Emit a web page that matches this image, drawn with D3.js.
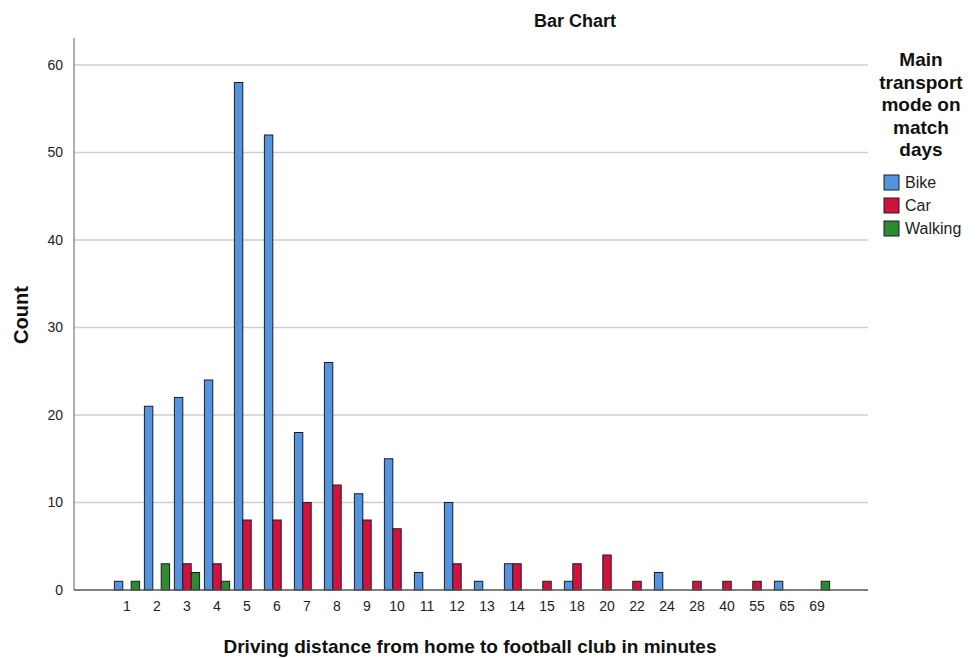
<!DOCTYPE html>
<html><head><meta charset="utf-8">
<script src="https://cdn.jsdelivr.net/npm/d3@7/dist/d3.min.js"></script>
<style>body{margin:0;background:#fff;} svg{display:block;font-family:"Liberation Sans",Arial,sans-serif;}</style>
</head><body>
<svg id="c" width="978" height="658"></svg>
<script>
const categories = ["1","2","3","4","5","6","7","8","9","10","11","12","13","14","15","18","20","22","24","28","40","55","65","69"];
const seriesNames = ["Bike","Car","Walking"];
const bikeValues    = [1,21,22,24,58,52,18,26,11,15,2,10,1,3,0,1,0,0,2,0,0,0,1,0];
const carValues     = [0,0,3,3,8,8,10,12,8,7,0,3,0,3,1,3,4,1,0,1,1,1,0,0];
const walkingValues = [1,3,2,1,0,0,0,0,0,0,0,0,0,0,0,0,0,0,0,0,0,0,0,1];
const yTicks = [0,10,20,30,40,50,60];
const colors = ["#5394DD","#D0123C","#2D8B2D"];

const svg = d3.select("#c");
const axisLeft = 74, axisRight = 868, yTop = 38, yBase = 590;

const x = d3.scaleBand().domain(categories).range([112, 832]).paddingInner(0.16).paddingOuter(0.08);
const xs = d3.scaleBand().domain(seriesNames).range([0, x.bandwidth()]);
const y = d3.scaleLinear().domain([0, 60]).range([yBase, 65]);

// gridlines
svg.append("g").selectAll("line").data(yTicks.filter(d=>d>0)).join("line")
  .attr("x1", axisLeft).attr("x2", axisRight)
  .attr("y1", d=>y(d)).attr("y2", d=>y(d))
  .attr("stroke", "#cfcfcf").attr("stroke-width", 1.5);

// y axis
const ya = svg.append("g").attr("transform", `translate(${axisLeft},0)`)
  .call(d3.axisLeft(y).tickValues(yTicks).tickSize(0).tickPadding(11));
ya.select(".domain").remove();
ya.selectAll("text").attr("font-size", 14).attr("fill", "#222").attr("font-family", "Liberation Sans, Arial, sans-serif");
svg.append("line").attr("x1", axisLeft).attr("x2", axisLeft).attr("y1", yTop).attr("y2", yBase)
  .attr("stroke", "#7a7a7a").attr("stroke-width", 1.2);

// bars
const data = categories.map((c,i)=>({cat:c, vals:[bikeValues[i],carValues[i],walkingValues[i]]}));
const g = svg.append("g");
data.forEach(d=>{
  d.vals.forEach((v,j)=>{
    if (v <= 0) return;
    g.append("rect")
      .attr("x", x(d.cat) + xs(seriesNames[j]))
      .attr("y", y(v))
      .attr("width", xs.bandwidth())
      .attr("height", yBase - y(v))
      .attr("fill", colors[j])
      .attr("stroke", "#1c1c2a").attr("stroke-width", 1);
  });
});

// x axis
const xa = svg.append("g").attr("transform", `translate(0,${yBase})`)
  .call(d3.axisBottom(x).tickSize(0).tickPadding(11));
xa.select(".domain").remove();
xa.selectAll("text").attr("font-size", 14).attr("fill", "#222").attr("font-family", "Liberation Sans, Arial, sans-serif");
svg.append("line").attr("x1", axisLeft).attr("x2", axisRight).attr("y1", yBase).attr("y2", yBase)
  .attr("stroke", "#555").attr("stroke-width", 1.5);

// titles
svg.append("text").attr("x", 575).attr("y", 27).attr("text-anchor","middle")
  .attr("font-size", 18).attr("font-weight","bold").attr("fill","#111").text("Bar Chart");
svg.append("text").attr("transform","translate(28,315) rotate(-90)").attr("text-anchor","middle")
  .attr("font-size", 20).attr("font-weight","bold").attr("fill","#111").text("Count");
svg.append("text").attr("x", 470).attr("y", 653).attr("text-anchor","middle")
  .attr("font-size", 19).attr("font-weight","bold").attr("fill","#111")
  .text("Driving distance from home to football club in minutes");

// legend
const legTitle = ["Main","transport","mode on","match","days"];
svg.append("g").selectAll("text").data(legTitle).join("text")
  .attr("x", 921).attr("y", (d,i)=>66 + i*22.5).attr("text-anchor","middle")
  .attr("font-size", 19).attr("font-weight","bold").attr("fill","#111").text(d=>d);
const li = svg.append("g").selectAll("g").data(seriesNames).join("g")
  .attr("transform", (d,i)=>`translate(884,${175 + i*23})`);
li.append("rect").attr("width", 15).attr("height", 15).attr("fill", (d,i)=>colors[i])
  .attr("stroke","#1c1c2a").attr("stroke-width",1);
li.append("text").attr("x", 21).attr("y", 13).attr("font-size", 16).attr("fill","#222").text(d=>d);
</script>
</body></html>
